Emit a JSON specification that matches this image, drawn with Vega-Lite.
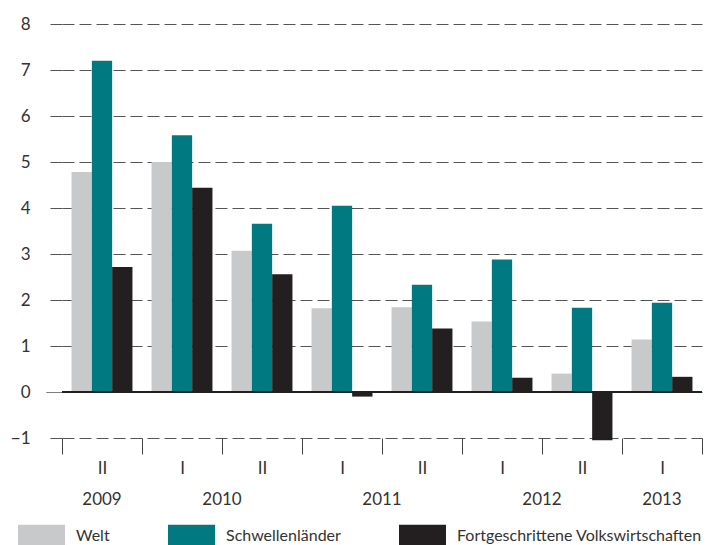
{
  "$schema": "https://vega.github.io/schema/vega-lite/v6.json",
  "width": 640,
  "height": 414,
  "autosize": {"type": "none"},
  "padding": {"left": 62, "top": 24, "right": 10, "bottom": 107},
  "background": "white",
  "config": {
    "view": {"stroke": null},
    "font": "Lato",
    "axis": {"labelFont": "Lato", "labelFontSize": 17, "labelColor": "#333"}
  },
  "datasets": {
    "bars": [
      {"period": "2009 II", "series": "Welt", "value": 4.78},
      {"period": "2009 II", "series": "Schwellenländer", "value": 7.2},
      {"period": "2009 II", "series": "Fortgeschrittene Volkswirtschaften", "value": 2.72},
      {"period": "2010 I", "series": "Welt", "value": 5.0},
      {"period": "2010 I", "series": "Schwellenländer", "value": 5.58},
      {"period": "2010 I", "series": "Fortgeschrittene Volkswirtschaften", "value": 4.44},
      {"period": "2010 II", "series": "Welt", "value": 3.07},
      {"period": "2010 II", "series": "Schwellenländer", "value": 3.66},
      {"period": "2010 II", "series": "Fortgeschrittene Volkswirtschaften", "value": 2.56},
      {"period": "2011 I", "series": "Welt", "value": 1.82},
      {"period": "2011 I", "series": "Schwellenländer", "value": 4.05},
      {"period": "2011 I", "series": "Fortgeschrittene Volkswirtschaften", "value": -0.1},
      {"period": "2011 II", "series": "Welt", "value": 1.84},
      {"period": "2011 II", "series": "Schwellenländer", "value": 2.33},
      {"period": "2011 II", "series": "Fortgeschrittene Volkswirtschaften", "value": 1.38},
      {"period": "2012 I", "series": "Welt", "value": 1.53},
      {"period": "2012 I", "series": "Schwellenländer", "value": 2.88},
      {"period": "2012 I", "series": "Fortgeschrittene Volkswirtschaften", "value": 0.31},
      {"period": "2012 II", "series": "Welt", "value": 0.4},
      {"period": "2012 II", "series": "Schwellenländer", "value": 1.83},
      {"period": "2012 II", "series": "Fortgeschrittene Volkswirtschaften", "value": -1.05},
      {"period": "2013 I", "series": "Welt", "value": 1.14},
      {"period": "2013 I", "series": "Schwellenländer", "value": 1.94},
      {"period": "2013 I", "series": "Fortgeschrittene Volkswirtschaften", "value": 0.33}
    ],
    "yearsEdge": [
      {"period": "2010 II", "year": "2010"},
      {"period": "2011 II", "year": "2011"},
      {"period": "2012 II", "year": "2012"}
    ],
    "yearsCenter": [
      {"period": "2009 II", "year": "2009"},
      {"period": "2013 I", "year": "2013"}
    ],
    "zero": [{"v": 0}]
  },
  "layer": [
    {
      "data": {"name": "bars"},
      "mark": {"type": "bar", "clip": false},
      "encoding": {
        "x": {
          "field": "period", "type": "nominal",
          "scale": {"domain": ["2009 II","2010 I","2010 II","2011 I","2011 II","2012 I","2012 II","2013 I"], "paddingInner": 0, "paddingOuter": 0},
          "axis": {
            "title": null, "domain": false, "grid": false, "tickBand": "extent",
            "tickSize": 16, "tickColor": "#444", "tickWidth": 1,
            "labelAngle": 0, "labelPadding": 6,
            "labelExpr": "split(datum.label, ' ')[1]"
          }
        },
        "xOffset": {
          "field": "series", "type": "nominal",
          "scale": {"domain": ["Welt","Schwellenländer","Fortgeschrittene Volkswirtschaften"], "paddingInner": 0, "paddingOuter": 0.47}
        },
        "y": {
          "field": "value", "type": "quantitative",
          "scale": {"domain": [-1, 8], "nice": false, "zero": false},
          "axis": {
            "title": null, "domain": false, "values": [-1,0,1,2,3,4,5,6,7,8],
            "grid": true, "gridColor": "#555", "gridWidth": 1, "gridDash": [12, 5],
            "tickSize": 16, "tickColor": "#555", "tickWidth": 1,
            "tickDash": {"condition": {"test": "datum.value === 0", "value": [1, 0]}, "value": [12, 5]},
            "labelPadding": 16, "labelAlign": "right"
          }
        },
        "color": {
          "field": "series", "type": "nominal",
          "scale": {"domain": ["Welt","Schwellenländer","Fortgeschrittene Volkswirtschaften"], "range": ["#c8c9ca","#007a80","#231f20"]},
          "legend": {
            "title": null, "orient": "none", "legendX": -44, "legendY": 488,
            "direction": "horizontal", "padding": 0,
            "symbolType": "M-1,-0.468H1V0.468H-1Z", "symbolSize": 2209,
            "symbolStrokeWidth": 0, "symbolOpacity": 1,
            "labelFont": "Lato", "labelFontSize": 16, "labelColor": "#333",
            "labelOffset": 11, "columnPadding": 58, "labelLimit": 400
          }
        }
      }
    },
    {
      "data": {"name": "zero"},
      "mark": {"type": "rule", "color": "#231f20", "strokeWidth": 2},
      "encoding": {"y": {"field": "v", "type": "quantitative"}}
    },
    {
      "data": {"name": "yearsEdge"},
      "mark": {"type": "text", "fontSize": 17, "color": "#333", "font": "Lato", "baseline": "middle", "y": {"expr": "height + 62"}, "clip": false},
      "encoding": {
        "x": {"field": "period", "type": "nominal", "bandPosition": 0},
        "text": {"field": "year"}
      }
    },
    {
      "data": {"name": "yearsCenter"},
      "mark": {"type": "text", "fontSize": 17, "color": "#333", "font": "Lato", "baseline": "middle", "y": {"expr": "height + 62"}, "clip": false},
      "encoding": {
        "x": {"field": "period", "type": "nominal", "bandPosition": 0.5},
        "text": {"field": "year"}
      }
    }
  ]
}
